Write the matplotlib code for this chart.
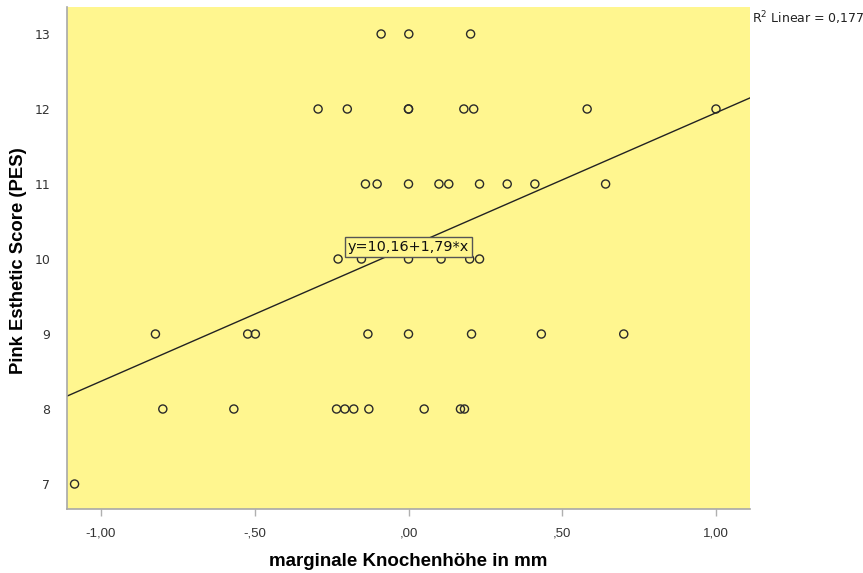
import matplotlib
matplotlib.use("Agg")
import matplotlib.pyplot as plt
import numpy as np

# data: marginal bone height (mm) vs PES
x_vals = [-0.089, 0.001, 0.202,
          -0.294, -0.199, 0.0, 0.0, 0.180, 0.212, 0.581, 1.0,
          -0.140, -0.102, 0.0, 0.099, 0.131, 0.231, 0.321, 0.411, 0.641,
          -0.229, -0.153, 0.0, 0.106, 0.199, 0.231,
          -0.823, -0.523, -0.498, -0.132, 0.0, 0.205, 0.432, 0.700,
          -0.799, -0.568, -0.234, -0.207, -0.178, -0.129, 0.051, 0.169, 0.182,
          -1.086]
y_vals = [13, 13, 13,
          12, 12, 12, 12, 12, 12, 12, 12,
          11, 11, 11, 11, 11, 11, 11, 11, 11,
          10, 10, 10, 10, 10, 10,
          9, 9, 9, 9, 9, 9, 9, 9,
          8, 8, 8, 8, 8, 8, 8, 8, 8,
          7]
intercept = 10.16
slope = 1.79
r2_text = "R$^2$ Linear = 0,177"
eq_text = "y=10,16+1,79*x"
x_ticks = [-1.0, -0.5, 0.0, 0.5, 1.0]
x_ticklabels = ["-1,00", "-,50", ",00", ",50", "1,00"]
y_ticks = [7, 8, 9, 10, 11, 12, 13]

fig = plt.figure(figsize=(8.63, 5.73), dpi=100)
ax = fig.add_axes([67/863, 64/573, 683/863, 502/573])
ax.set_facecolor("#fff68f")
xlim = (-1.1106, 1.1106)
ax.set_xlim(*xlim)
ax.set_ylim(6.667, 13.36)

ax.scatter(x_vals, y_vals, s=34, facecolors="none", edgecolors="#2a2a2a",
           linewidths=1.0, zorder=3)

xl = np.array(xlim)
ax.plot(xl, intercept + slope * xl, color="#222222", linewidth=1.0, zorder=2)

ax.text(0.0, 10.16, eq_text, ha="center", va="center", fontsize=10.4,
        family="DejaVu Sans", color="#111111", zorder=4,
        bbox=dict(boxstyle="square,pad=0.2", facecolor="#fff68f",
                  edgecolor="#555555", linewidth=1.0))

for s in ["top", "right"]:
    ax.spines[s].set_visible(False)
for s in ["left", "bottom"]:
    ax.spines[s].set_color("#a8a8a8")
    ax.spines[s].set_linewidth(1.2)

ax.set_xticks(x_ticks)
ax.set_xticklabels(x_ticklabels, fontsize=9.5, family="Liberation Sans", color="#333333")
ax.tick_params(axis="x", length=5, color="#b0b0b0", width=1, pad=8)
ax.set_yticks(y_ticks)
ax.set_yticklabels([str(v) for v in y_ticks], fontsize=9, family="DejaVu Sans", color="#333333")
ax.tick_params(axis="y", length=0, pad=12)

fig.text(408/863, 1 - 562/573, "marginale Knochenhöhe in mm", ha="center", va="center",
         fontsize=13.5, fontweight="bold", family="Liberation Sans")
fig.text(19/863, 1 - 261/573, "Pink Esthetic Score (PES)", ha="center", va="center",
         rotation=90, fontsize=13.3, fontweight="bold", family="Liberation Sans")
fig.text(752/863, 1 - 18/573, r2_text, ha="left", va="center", fontsize=9,
         family="DejaVu Sans", color="#222222")

fig.savefig("out.png", dpi=100)
